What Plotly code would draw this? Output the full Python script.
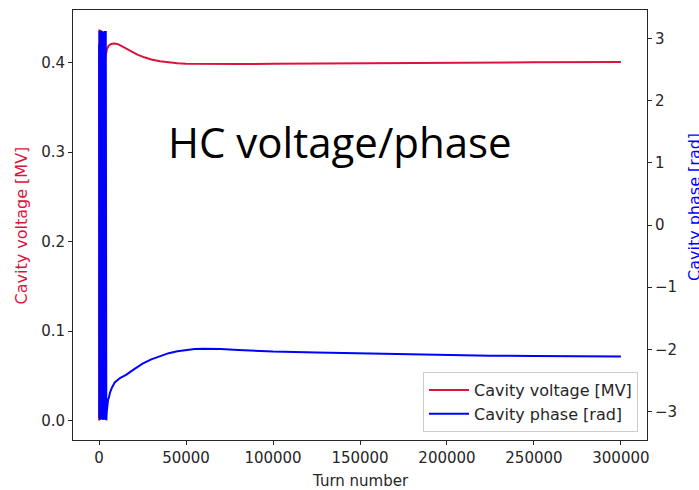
import plotly.graph_objects as go

# Turn numbers and cavity voltage [MV]
volt_turns = [0, 60, 150, 300, 500, 800, 1200, 1700, 2300, 3000, 3800, 4500, 5500,
              7000, 8500, 10500, 12500, 15000, 18000, 22000, 26000, 30000, 35000,
              40000, 45000, 50000, 60000, 70000, 80000, 100000, 125000, 150000,
              200000, 250000, 300000]
volt_mv = [0.0, 0.20, 0.437, 0.33, 0.43, 0.36, 0.425, 0.38, 0.42, 0.40, 0.41, 0.415,
           0.419, 0.421, 0.4215, 0.421, 0.419, 0.4165, 0.413, 0.409, 0.406, 0.4035,
           0.4015, 0.4002, 0.3993, 0.3988, 0.3984, 0.3983, 0.3984, 0.3987, 0.3991,
           0.3995, 0.3999, 0.4004, 0.4008]

# Turn numbers and cavity phase [rad]
phase_turns = [0, 120, 240, 360, 480, 600, 720, 840, 960, 1080, 1200, 1320, 1440,
               1560, 1680, 1800, 1920, 2040, 2160, 2280, 2400, 2520, 2640, 2760, 2880,
               3000, 3120, 3240, 3360, 3480, 3600, 3720, 3840, 3960, 4150, 4400, 4800,
               5200, 5600, 6200, 7300, 9000, 12000, 15500, 20000, 25000, 30000, 35000,
               40000, 45000, 50000, 55000, 60000, 65000, 70000, 80000, 90000, 100000,
               125000, 150000, 175000, 200000, 225000, 250000, 275000, 300000]
phase_rad = [2.9, -3.1, 3.12, -3.05, 3.1, -3.13, 3.05, -3.1, 3.13, -3.08, 3.1, -3.12,
             3.08, -3.1, 3.12, -3.06, 3.1, -3.13, 3.1, -3.09, 3.11, -3.12, 3.08, -3.1,
             3.1, -3.13, 3.1, -3.08, 3.12, -3.12, 3.1, -3.1, 3.12, -3.0, -3.14, -3.0,
             -2.85, -2.8, -2.78, -2.7, -2.62, -2.53, -2.46, -2.41, -2.32, -2.23, -2.16,
             -2.11, -2.06, -2.03, -2.01, -1.995, -1.99, -1.99, -1.995, -2.01, -2.025,
             -2.035, -2.05, -2.065, -2.08, -2.09, -2.1, -2.105, -2.11, -2.115]

x_ticks = [0, 50000, 100000, 150000, 200000, 250000, 300000]
v_ticks = [0.0, 0.1, 0.2, 0.3, 0.4]
p_ticks = [-3, -2, -1, 0, 1, 2, 3]

RED = "#dc143c"
BLUE = "#0000ff"
INK = "#262626"
FONT = "DejaVu Sans"

# Plot-area geometry in pixels (used to place free-standing labels)
L, R, T, B = 73, 52, 10, 50
PW, PH = 699 - L - R, 490 - T - B


def px_x(x):
    return (x - L) / PW


def px_y(y):
    return (490 - B - y) / PH


fig = go.Figure()
fig.add_trace(go.Scatter(x=volt_turns, y=volt_mv, mode="lines",
                         name="Cavity voltage [MV]",
                         line=dict(color=RED, width=2), yaxis="y"))
fig.add_trace(go.Scatter(x=phase_turns, y=phase_rad, mode="lines",
                         name="Cavity phase [rad]",
                         line=dict(color=BLUE, width=2), yaxis="y2"))

axis_common = dict(showline=True, linecolor=INK, linewidth=1, ticks="outside",
                   ticklen=4, tickcolor=INK, showgrid=False, zeroline=False,
                   automargin=False,
                   tickfont=dict(family=FONT, size=15, color=INK))

fig.update_layout(
    width=699, height=490,
    margin=dict(l=L, r=R, t=T, b=B, autoexpand=False),
    paper_bgcolor="white", plot_bgcolor="white",
    font=dict(family=FONT, size=15, color=INK),
    xaxis=dict(range=[-15000, 315000], tickvals=x_ticks,
               ticktext=[str(t) for t in x_ticks], mirror=True, **axis_common),
    yaxis=dict(range=[-0.0218, 0.4589], tickvals=v_ticks,
               ticktext=["0.0", "0.1", "0.2", "0.3", "0.4"], **axis_common),
    yaxis2=dict(range=[-3.456, 3.456], tickvals=p_ticks, overlaying="y",
                side="right", **axis_common),
    legend=dict(x=px_x(638), y=px_y(432), xanchor="right",
                yanchor="bottom", bgcolor="rgba(255,255,255,0.8)",
                bordercolor="#cccccc", borderwidth=1, itemwidth=40,
                font=dict(family=FONT, size=16, color=INK), tracegroupgap=0),
    showlegend=True,
)

# Axis titles
fig.add_annotation(text="Turn number", xref="paper", yref="paper",
                   x=px_x(360), y=px_y(481), showarrow=False,
                   font=dict(family=FONT, size=15, color=INK),
                   xanchor="center", yanchor="middle")
fig.add_annotation(text="Cavity voltage [MV]", xref="paper", yref="paper",
                   x=px_x(20.5), y=px_y(226), showarrow=False, textangle=-90,
                   font=dict(family=FONT, size=16, color=RED),
                   xanchor="center", yanchor="middle")
# Right-hand axis label, partly running off the page edge
fig.add_annotation(text="Cavity phase [rad]", xref="paper", yref="paper",
                   x=px_x(694), y=px_y(207), showarrow=False,
                   textangle=-90, font=dict(family=FONT, size=16, color=BLUE),
                   xanchor="center", yanchor="middle")

# Overlaid heading
fig.add_annotation(text="HC voltage/phase", xref="paper", yref="paper",
                   x=px_x(340), y=px_y(141), showarrow=False,
                   font=dict(family="Open Sans", size=42, color="black"),
                   xanchor="center", yanchor="middle")

fig.write_html("out.html")
